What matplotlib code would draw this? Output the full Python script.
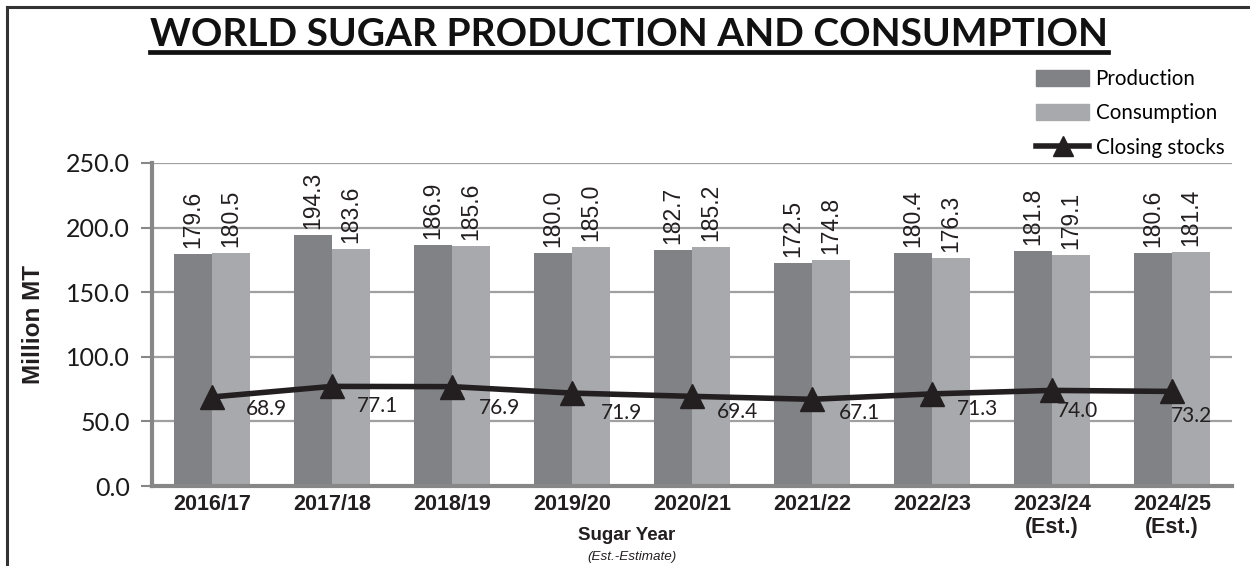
import numpy as np
import matplotlib
matplotlib.use("Agg")
import matplotlib.pyplot as plt
from matplotlib.lines import Line2D
from matplotlib.patches import Patch

# data
years = ["2016/17", "2017/18", "2018/19", "2019/20", "2020/21",
         "2021/22", "2022/23", "2023/24\n(Est.)", "2024/25\n(Est.)"]
production = [179.6, 194.3, 186.9, 180.0, 182.7, 172.5, 180.4, 181.8, 180.6]
consumption = [180.5, 183.6, 185.6, 185.0, 185.2, 174.8, 176.3, 179.1, 181.4]
closing_stocks = [68.9, 77.1, 76.9, 71.9, 69.4, 67.1, 71.3, 74.0, 73.2]

# label offsets (pixels) for the closing stock values, as placed in the source
stock_label_dx = [54, 46, 47, 49, 46, 47, 46, 25, 20]
stock_label_dy = [-12, -20, -21, -20, -16, -14, -15, -21, -25]

PROD_COLOR = "#808285"
CONS_COLOR = "#a7a9ac"
LINE_COLOR = "#231f20"
GRID_COLOR = "#a0a0a0"
SPINE_COLOR = "#878787"
calibri_like = ["Lato", "DejaVu Sans"]
arial_like = ["Liberation Sans", "DejaVu Sans"]

W, H = 1250, 566
fig = plt.figure(figsize=(W / 100, H / 100), dpi=100)
ax = fig.add_axes([152 / W, 1 - 486 / H, (1232 - 152) / W, (486 - 163) / H])

x = np.arange(len(years))
bw = 0.317
ax.bar(x - bw / 2, production, bw, color=PROD_COLOR, zorder=2)
ax.bar(x + bw / 2, consumption, bw, color=CONS_COLOR, zorder=2)

for xi, v in zip(x, production):
    ax.annotate(f"{v:.1f}", (xi - bw / 2, v), xytext=(0, 6), textcoords="offset pixels",
                rotation=90, ha="center", va="bottom", fontsize=16.5,
                family=arial_like, color="#231f20")
for xi, v in zip(x, consumption):
    ax.annotate(f"{v:.1f}", (xi + bw / 2, v), xytext=(0, 6), textcoords="offset pixels",
                rotation=90, ha="center", va="bottom", fontsize=16.5,
                family=arial_like, color="#231f20")

ax.plot(x, closing_stocks, color=LINE_COLOR, lw=4, marker="^", markersize=17,
        zorder=4)
for xi, v, dx, dy in zip(x, closing_stocks, stock_label_dx, stock_label_dy):
    ax.annotate(f"{v:.1f}", (xi, v), xytext=(dx, dy), textcoords="offset pixels",
                ha="center", va="center", fontsize=15, family=calibri_like,
                color="#231f20", zorder=5)

ax.set_xlim(-0.5, len(years) - 0.5)
ax.set_ylim(0, 250)
ax.set_yticks(np.arange(0, 251, 50))
ax.set_yticklabels([f"{t:.1f}" for t in np.arange(0, 251, 50)],
                   fontsize=18, family=calibri_like, color="#1a1a1a")
ax.set_xticks(x)
ax.set_xticklabels(years, fontsize=15.5, fontweight="bold", family=arial_like,
                   color="#231f20", linespacing=1.1)
ax.tick_params(axis="x", length=0, pad=6)
ax.tick_params(axis="y", length=8, width=1.5, color=SPINE_COLOR, pad=8)
ax.yaxis.grid(True, color=GRID_COLOR, lw=1.6, zorder=0)
ax.set_axisbelow(True)
for s in ["top", "right"]:
    ax.spines[s].set_visible(False)
for s in ["left", "bottom"]:
    ax.spines[s].set_color(SPINE_COLOR)
    ax.spines[s].set_linewidth(3)

fig.text(34 / W, 1 - 325 / H, "Million MT", rotation=90, ha="center", va="center",
         fontsize=17.5, fontweight="bold", family=arial_like, color="#231f20")
fig.text(627 / W, 1 - 535 / H, "Sugar Year", ha="center", va="center",
         fontsize=13.5, fontweight="bold", family=arial_like, color="#231f20")
fig.text(632 / W, 1 - 557 / H, "(Est.-Estimate)", ha="center", va="center",
         fontsize=9.7, style="italic", family=arial_like, color="#231f20")

# title with underline
title = fig.text(629 / W, 1 - 46 / H, "WORLD SUGAR PRODUCTION AND CONSUMPTION",
                 ha="center", va="baseline", fontsize=28, fontweight="bold",
                 family=calibri_like, color="#111111")
fig.canvas.draw()
bb = title.get_window_extent()
fig.add_artist(Line2D([bb.x0 / W, bb.x1 / W], [1 - 51.5 / H] * 2, color="#111111",
                      lw=3.4, transform=fig.transFigure))

# frame lines at top and left
fig.add_artist(Line2D([7 / W, 1], [1 - 7 / H] * 2, color="#333333", lw=2.2,
                      transform=fig.transFigure))
fig.add_artist(Line2D([7 / W] * 2, [0, 1 - 7 / H], color="#333333", lw=2.2,
                      transform=fig.transFigure))

handles = [Patch(color=PROD_COLOR), Patch(color=CONS_COLOR),
           Line2D([], [], color=LINE_COLOR, lw=4, marker="^", markersize=14)]
fig.legend(handles, ["Production", "Consumption", "Closing stocks"],
           loc="upper left", bbox_to_anchor=(1036 / W, 1 - 69 / H),
           frameon=False, borderpad=0, borderaxespad=0, handlelength=2.6,
           handleheight=0.8, handletextpad=0.3, labelspacing=0.7,
           prop={"family": calibri_like, "size": 14.8})

fig.savefig("out.png", dpi=100)
